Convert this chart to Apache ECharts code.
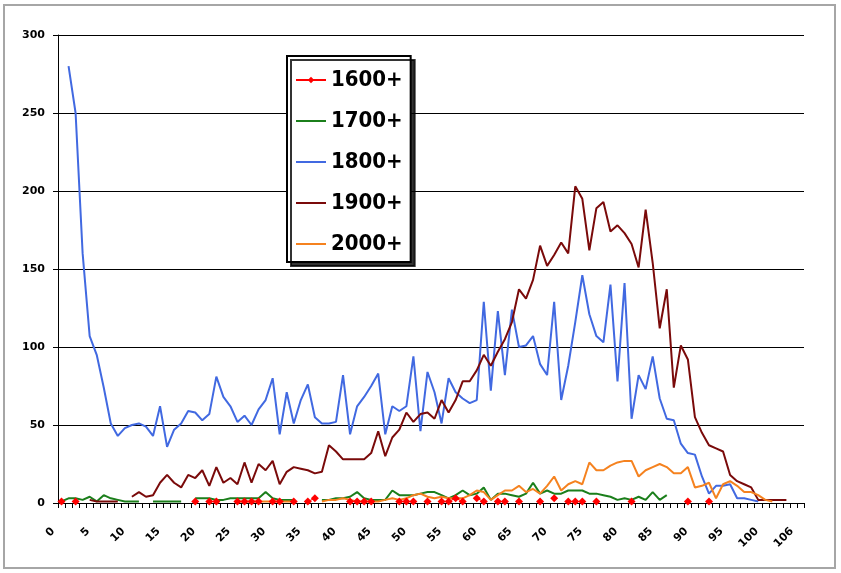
<!DOCTYPE html>
<html>
<head>
<meta charset="utf-8">
<script src="https://cdn.jsdelivr.net/npm/echarts@6/dist/echarts.min.js"></script>
<style>
    html, body {margin: 0; padding: 0; background: #fff;}
    #chart {width: 841px; height: 573px;}
</style>
</head>
<body>
<div id="chart"></div>
<script>
    // categories (ages), 105 is missing in the source
    var ages = ['0','1','2','3','4','5','6','7','8','9',
        '10','11','12','13','14','15','16','17','18','19',
        '20','21','22','23','24','25','26','27','28','29',
        '30','31','32','33','34','35','36','37','38','39',
        '40','41','42','43','44','45','46','47','48','49',
        '50','51','52','53','54','55','56','57','58','59',
        '60','61','62','63','64','65','66','67','68','69',
        '70','71','72','73','74','75','76','77','78','79',
        '80','81','82','83','84','85','86','87','88','89',
        '90','91','92','93','94','95','96','97','98','99',
        '100','101','102','103','104','106'];

    var names = ['1600+', '1700+', '1800+', '1900+', '2000+'];
    var colors = ['#FF0000', '#1B7F1B', '#4169E1', '#7A0A0A', '#F5821F'];

    var s1600 = [1, null, 1, null, null, null, null, null, null, null,
        null, null, null, null, null, null, null, null, null, 1,
        null, 1, 1, null, null, 1, 1, 1, 1, null,
        1, 1, null, 1, null, 1, 3, null, null, null,
        null, 1, 1, 1, 1, null, null, null, 1, 1,
        1, null, 1, null, 1, 1, 3, 1, null, 3,
        1, null, 1, 1, null, 1, null, null, 1, null,
        3, null, 1, 1, 1, null, 1, null, null, null,
        null, 1, null, null, null, null, null, null, null, 1,
        null, null, 1, null, null, null, null, null, null, null,
        null, null, null, null, null, null];

    var s1700 = [1, 3, 3, 2, 4, 1, 5, 3, 2, 1,
        1, 1, null, 1, 1, 1, 1, 1, null, 3,
        3, 3, 2, 2, 3, 3, 3, 3, 3, 7,
        3, 2, 2, 2, null, null, null, 2, 2, 3,
        3, 4, 7, 3, 2, 2, 2, 8, 5, 5,
        5, 6, 7, 7, 5, 3, 5, 8, 5, 6,
        10, 2, 6, 6, 5, 4, 6, 13, 6, 8,
        6, 6, 8, 8, 8, 6, 6, 5, 4, 2,
        3, 2, 4, 2, 7, 2, 5, null, null, null,
        null, null, null, null, null, null, null, null, null, null,
        null, null, null, null, null, null];

    var s1800 = [null, 280, 250, 160, 107, 95, 74, 51, 43, 48,
        50, 51, 49, 43, 62, 36, 47, 51, 59, 58,
        53, 57, 81, 68, 62, 52, 56, 50, 60, 66,
        80, 44, 71, 51, 66, 76, 55, 51, 51, 52,
        82, 44, 62, 68, 75, 83, 44, 62, 59, 62,
        94, 46, 84, 71, 51, 80, 71, 67, 64, 66,
        129, 72, 123, 82, 124, 100, 101, 107, 89, 82,
        129, 66, 88, 116, 146, 121, 107, 103, 140, 78,
        141, 54, 82, 73, 94, 67, 54, 53, 38, 32,
        31, 17, 6, 11, 11, 12, 3, 3, 2, 1,
        null, null, null, null, null, null];

    var s1900 = [null, null, null, null, 2, 1, 1, 1, 1, null,
        4, 7, 4, 5, 13, 18, 13, 10, 18, 16,
        21, 11, 23, 13, 16, 12, 26, 13, 25, 21,
        27, 12, 20, 23, 22, 21, 19, 20, 37, 33,
        28, 28, 28, 28, 32, 46, 30, 42, 47, 58,
        52, 57, 58, 54, 66, 58, 66, 78, 78, 85,
        95, 88, 97, 105, 116, 137, 131, 143, 165, 152,
        159, 167, 160, 203, 195, 162, 189, 193, 174, 178,
        173, 166, 151, 188, 154, 112, 137, 74, 101, 92,
        55, 45, 37, 35, 33, 18, 14, 12, 10, 2,
        2, 2, 2, 2, null, null];

    var s2000 = [null, null, null, null, null, null, null, null, null, null,
        null, null, null, null, null, null, null, null, null, null,
        null, null, null, null, null, 1, 1, 1, 1, 1,
        1, 1, 1, 1, null, null, null, 1, 2, 2,
        3, 2, 1, 1, 1, 1, 2, 3, 2, 3,
        5, 6, 4, 3, 4, 3, 3, 3, 5, 8,
        7, 2, 5, 8, 8, 11, 7, 9, 6, 11,
        17, 8, 12, 14, 12, 26, 21, 21, 24, 26,
        27, 27, 17, 21, 23, 25, 23, 19, 19, 23,
        10, 11, 13, 3, 12, 14, 11, 7, 7, 5,
        2, 1, null, null, null, null];

    var yTicks = [0, 50, 100, 150, 200, 250, 300];

    var allData = [s1600, s1700, s1800, s1900, s2000];
    var font = 'DejaVu Sans, Verdana, sans-serif';
    var legendFont = '"DejaVu Sans Condensed", "Liberation Sans", sans-serif';

    var series = [], legendData = [];
    for (var i = 0; i < names.length; i++) {
        var s = {
            name: names[i],
            type: 'line',
            data: allData[i],
            color: colors[i],
            connectNulls: false,
            lineStyle: {width: 2, color: colors[i]},
            symbol: 'none',
            z: 2 + i
        };
        if (i === 0) {
            // only the first series has markers
            s.symbol = 'diamond';
            s.symbolSize = 8;
            s.showSymbol = true;
            s.showAllSymbol = true;
            s.lineStyle = {width: 1, color: colors[i]};
            s.itemStyle = {color: colors[i]};
            s.z = 10;
            legendData.push({name: names[i]});
        } else {
            // plain line in the legend, hide the symbol
            legendData.push({name: names[i], itemStyle: {opacity: 0}});
        }
        series.push(s);
    }

    var chart = echarts.init(document.getElementById('chart'), null, {renderer: 'canvas'});
    chart.setOption({
        animation: false,
        backgroundColor: '#fff',
        grid: {left: 58, right: 37, top: 35, bottom: 70},
        graphic: [{
            type: 'rect',
            silent: true,
            z: -10,
            shape: {x: 4, y: 5, width: 831, height: 563},
            style: {fill: 'none', stroke: '#a6a6a6', lineWidth: 2}
        }],
        legend: {
            data: legendData,
            orient: 'vertical',
            left: 287,
            top: 56,
            backgroundColor: '#fff',
            borderColor: '#000',
            borderWidth: 2,
            shadowColor: 'rgba(0,0,0,0.8)',
            shadowBlur: 0,
            shadowOffsetX: 4,
            shadowOffsetY: 4,
            padding: [12, 8, 6, 8],
            itemGap: 17,
            itemWidth: 30,
            itemHeight: 8,
            textStyle: {fontFamily: legendFont, fontWeight: 'bold', fontSize: 22, color: '#000', lineHeight: 24}
        },
        xAxis: {
            type: 'category',
            data: ages,
            boundaryGap: true,
            axisLine: {lineStyle: {color: '#000', width: 1}},
            axisTick: {show: true, interval: 0, length: 5, lineStyle: {color: '#000'}},
            axisLabel: {
                interval: 4,
                rotate: 45,
                margin: 18,
                padding: [0, 12, 0, 0],
                color: '#000',
                fontFamily: font,
                fontWeight: 'bold',
                fontSize: 11
            },
            splitLine: {show: false}
        },
        yAxis: {
            type: 'value',
            min: yTicks[0],
            max: yTicks[yTicks.length - 1],
            interval: 50,
            axisLine: {show: true, lineStyle: {color: '#000', width: 1}},
            axisTick: {show: true, length: 5, lineStyle: {color: '#000'}},
            axisLabel: {margin: 13, color: '#000', fontFamily: font, fontWeight: 'bold', fontSize: 11},
            splitLine: {show: true, lineStyle: {color: '#000', width: 1}}
        },
        series: series
    });
</script>
</body>
</html>
